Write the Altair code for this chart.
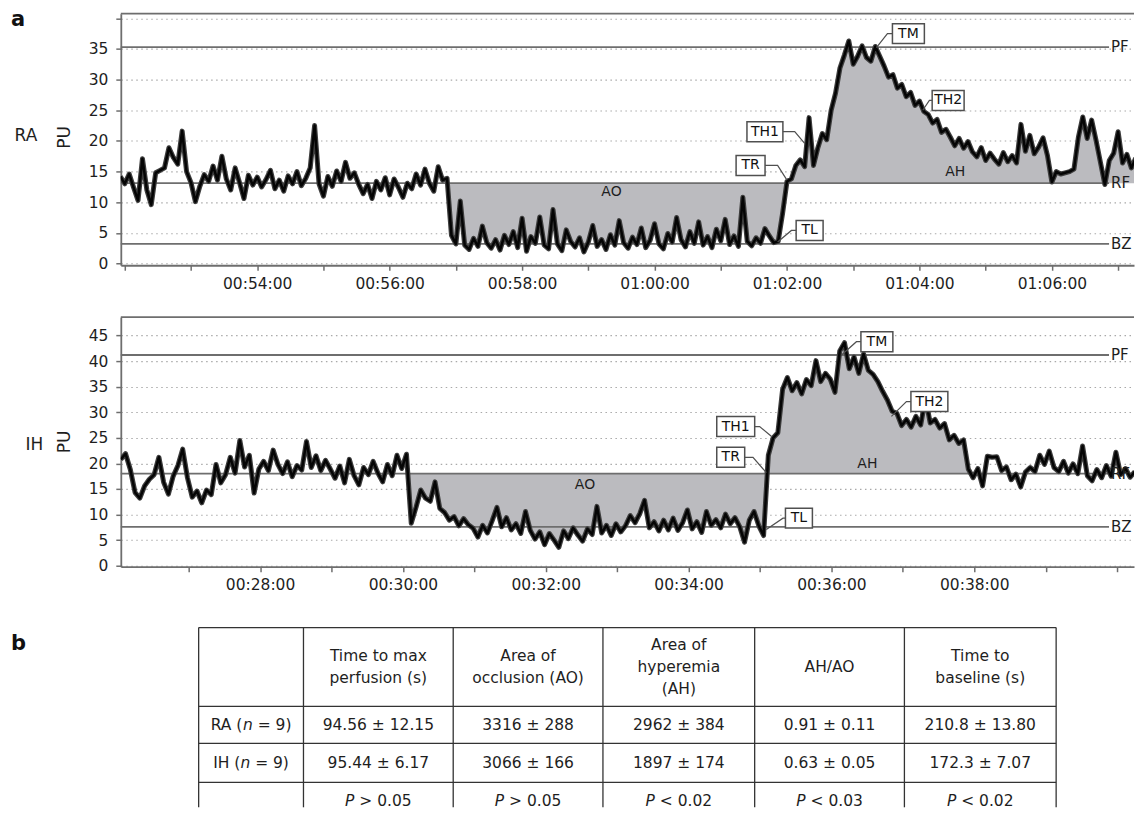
import altair as alt
import pandas as pd

FONT = "DejaVu Sans"
INK = "#1e1e1e"
AXIS_GRAY = "#6e6e6e"
FILL_GRAY = "#bbbbbf"
BOX_GRAY = "#505050"
PANEL_W = 1015

# ---------------- panel RA (time = seconds of the day) ----------------
RA_START = 3116
RA_STEP = 4
RA_PU = [
    14.2, 13.0, 14.6, 12.4, 10.3, 17.1, 12.0, 9.6, 14.8, 15.2,
    15.6, 18.9, 17.3, 16.2, 21.6, 15.0, 13.2, 10.1, 12.6, 14.5,
    13.4, 15.9, 13.6, 17.5, 13.8, 12.0, 15.6, 13.2, 10.6, 14.4,
    12.8, 14.1, 12.5, 13.7, 15.2, 12.2, 13.6, 11.8, 14.3, 13.0,
    15.0, 12.7, 13.9, 15.6, 22.5, 13.0, 11.0, 14.2, 12.6, 15.1,
    13.4, 16.5, 13.9, 14.8, 12.9, 11.4, 12.9, 10.6, 13.4, 12.0,
    14.0, 11.2, 13.8, 12.4, 10.8, 13.1, 12.2, 14.6, 12.8, 15.4,
    13.1, 11.8, 15.8, 13.6, 13.9, 4.6, 3.2, 10.2, 3.0, 2.3,
    4.1, 2.8, 6.1, 3.4, 2.5, 3.9, 2.2, 4.6, 3.1, 5.2,
    2.6, 7.4, 2.0, 4.4, 3.3, 7.6, 3.0, 2.4, 8.8, 3.2,
    2.1, 5.5, 3.6, 2.7, 4.2, 1.9, 3.5, 6.2, 2.8, 3.9,
    2.3, 4.7, 3.0, 7.0, 3.4, 2.5, 4.3, 3.1, 5.8, 2.6,
    3.8, 6.5, 3.2, 2.4, 4.9, 3.5, 7.5, 3.9, 2.7, 5.2,
    3.3, 6.8, 3.0, 4.4, 2.6, 5.6, 3.7, 7.2, 3.1, 4.5,
    2.8, 10.8, 3.6, 2.9, 4.2, 3.3, 5.7, 4.5, 3.4, 3.6,
    8.2, 13.4, 13.8, 16.0, 16.9, 15.8, 23.8, 16.0, 18.9, 21.2,
    20.2, 25.0, 27.8, 31.9, 34.0, 36.3, 32.5, 33.8, 35.5, 33.6,
    33.0, 35.4, 33.8, 32.2, 30.4, 30.8, 28.6, 29.2, 27.2, 27.9,
    25.8, 26.5, 24.8, 24.3, 22.9, 23.5, 21.4, 21.9, 20.6, 19.2,
    20.4, 18.8, 19.9, 18.2, 17.4, 18.9, 16.8, 18.0, 17.0, 16.2,
    18.1, 16.6, 17.6, 16.4, 22.7, 18.3, 20.9, 17.9, 19.0, 20.5,
    17.6, 13.3, 15.0, 14.6, 14.8, 15.0, 15.4, 20.6, 23.9, 20.4,
    23.4, 20.1, 16.5, 12.9, 16.8, 18.0, 21.5, 16.4, 17.8, 15.6, 17.2,
]
RA_X_DOMAIN = [3116.4, 4034.4]
RA_Y_DOMAIN = [-0.28, 40.75]
RA_Y_TICKS = [0, 5, 10, 15, 20, 25, 30, 35, 40]
RA_X_TICKS = list(range(3120, 4021, 60))
RA_X_LABELED = list(range(3240, 3961, 120))
RA_LEVEL_NAMES = ["PF", "RF", "BZ"]
RA_LEVELS = [35.3, 13.1, 3.2]
RA_AO = [3412, 3720]
RA_AH = [3716, 4040]
RA_ANN_LABELS = ["TM", "TH2", "TH1", "TR", "TL"]
RA_ANN_BOX_T = [3830, 3866, 3700, 3687, 3740.5]
RA_ANN_BOX_V = [37.5, 26.6, 21.5, 16.0, 5.4]
RA_ANN_ELBOW_T = [3811, 3849, 3727, 3711.5, 3724]
RA_ANN_TARGET_T = [3801, 3843, 3736, 3720, 3711.5]
RA_ANN_TARGET_V = [35.2, 25.0, 19.6, 13.6, 3.5]
RA_ANN_BOX_W = [32, 32, 36, 29, 27]
RA_AREA_NAMES = ["AO", "AH"]
RA_AREA_T = [3561, 3872.5]
RA_AREA_V = [11.6, 14.9]

# ---------------- panel IH ----------------
IH_START = 1563
IH_STEP = 4
IH_PU = [
    20.8, 21.9, 18.8, 14.3, 13.2, 15.6, 16.9, 17.8, 21.2, 16.3,
    14.0, 17.5, 19.6, 22.8, 17.2, 13.4, 14.6, 12.3, 14.8, 13.9,
    19.8, 16.2, 17.8, 21.2, 18.1, 24.5, 19.3, 21.6, 14.2, 18.9,
    20.4, 18.6, 22.6, 19.8, 18.0, 20.3, 17.4, 19.6, 18.7, 24.3,
    19.2, 21.5, 18.6, 20.6, 18.9, 17.1, 19.5, 16.2, 20.8, 17.6,
    15.8, 19.2, 17.8, 20.4, 18.1, 16.4, 19.8, 17.6, 21.6, 19.0,
    21.8, 8.3, 11.4, 14.8, 13.2, 12.6, 16.4, 11.2, 10.4, 8.9,
    9.6, 7.8, 9.2, 8.0, 7.3, 5.6, 7.9, 6.4, 8.8, 11.4,
    7.6, 9.4, 7.0, 8.2, 6.3, 10.6, 6.9, 5.2, 6.6, 4.1,
    6.3, 5.0, 3.6, 6.8, 5.3, 7.4, 6.0, 4.8, 7.2, 6.1,
    11.6, 6.4, 7.9, 5.9, 8.2, 6.6, 7.8, 9.8, 8.4, 10.2,
    12.8, 7.4, 8.6, 6.8, 8.9, 7.0, 9.3, 6.9, 8.4, 10.9,
    7.2, 8.6, 6.5, 10.6, 7.9, 9.0, 7.4, 10.1, 8.2, 9.4,
    7.6, 4.6, 8.9, 10.6, 7.8, 5.9, 21.6, 25.0, 26.0, 34.5,
    36.8, 34.2, 35.8, 33.6, 36.4, 35.2, 40.1, 36.0, 37.6, 36.5,
    33.9, 42.0, 43.6, 38.5, 40.8, 37.6, 41.4, 38.2, 37.4, 36.0,
    34.1, 32.4, 30.2, 29.8, 27.4, 28.6, 27.1, 29.2, 27.5, 32.8,
    27.9, 28.6, 26.9, 27.8, 24.6, 25.5, 23.9, 24.6, 18.9, 17.2,
    19.0, 15.6, 21.4, 21.2, 21.3, 18.6, 19.3, 16.8, 17.9, 15.4,
    18.3, 19.2, 18.4, 21.6, 19.8, 22.4, 19.2, 18.4, 20.4, 18.1,
    19.9, 18.0, 23.4, 17.6, 16.6, 18.8, 17.2, 19.6, 17.5, 22.2,
    17.8, 19.0, 17.3, 18.4,
]
IH_X_DOMAIN = [1563.0, 2414.2]
IH_Y_DOMAIN = [-0.2, 48.6]
IH_Y_TICKS = [0, 5, 10, 15, 20, 25, 30, 35, 40, 45]
IH_X_TICKS = list(range(1620, 2401, 60))
IH_X_LABELED = list(range(1680, 2281, 120))
IH_LEVEL_NAMES = ["PF", "RF", "BZ"]
IH_LEVELS = [41.2, 18.0, 7.6]
IH_AO = [1803, 2107]
IH_AH = [2103, 2275]
IH_ANN_LABELS = ["TM", "TH2", "TH1", "TR", "TL"]
IH_ANN_BOX_T = [2198.2, 2242.3, 2079.6, 2075.4, 2132.7]
IH_ANN_BOX_V = [43.8, 32.1, 27.2, 21.2, 9.3]
IH_ANN_ELBOW_T = [2181, 2223, 2099.7, 2094.1, 2119.3]
IH_ANN_TARGET_T = [2168.5, 2210.4, 2109.5, 2105.3, 2105.3]
IH_ANN_TARGET_V = [41.2, 29.2, 25.3, 18.2, 7.1]
IH_ANN_BOX_W = [32, 37, 38, 28, 27]
IH_AREA_NAMES = ["AO", "AH"]
IH_AREA_T = [1953, 2190.2]
IH_AREA_V = [15.7, 19.8]

# ---------------- table b ----------------
TBL_HEADERS = [
    [],
    ["Time to max", "perfusion (s)"],
    ["Area of", "occlusion (AO)"],
    ["Area of", "hyperemia", "(AH)"],
    ["AH/AO"],
    ["Time to", "baseline (s)"],
]
TBL_GROUPS = ["RA", "IH"]
TBL_N = "9"
TBL_RA = ["94.56 ± 12.15", "3316 ± 288", "2962 ± 384", "0.91 ± 0.11", "210.8 ± 13.80"]
TBL_IH = ["95.44 ± 6.17", "3066 ± 166", "1897 ± 174", "0.63 ± 0.05", "172.3 ± 7.07"]
TBL_P_SIGN = [">", ">", "<", "<", "<"]
TBL_P_VAL = ["0.05", "0.05", "0.02", "0.03", "0.02"]
TBL_COLS = [78, 183, 333, 483, 635, 785, 937]
TBL_ROWS = [0, 79, 116, 155, 192]
TBL_TOP = -9
TBL_H = 180
TBL_FS = 15.5


def make_panel(c):
    xs = alt.Scale(domain=c["x_domain"], nice=False, zero=False)
    ys = alt.Scale(domain=c["y_domain"], nice=False, zero=False)
    lab = "[" + ",".join(str(v) for v in c["x_labeled"]) + "]"
    x_axis = alt.Axis(
        values=c["x_ticks"], title=None, grid=False, labelOverlap=False, labelFlush=False,
        labelPadding=6,
        labelExpr=f"indexof({lab}, datum.value) >= 0 ? utcFormat(datum.value * 1000, '%H:%M:%S') : ''",
    )
    y_axis = alt.Axis(
        values=c["y_ticks"], title=None, grid=True, gridDash=[1.5, 3.5], gridColor="#a9a9a9",
        gridWidth=1.1, labelOverlap=False, labelPadding=8,
        labelExpr=f"datum.value > {c['y_label_max']} ? '' : datum.label",
    )

    def X(f):
        return alt.X(f"{f}:Q", scale=xs, axis=x_axis)

    def Y(f):
        return alt.Y(f"{f}:Q", scale=ys, axis=y_axis)

    T = [c["start"] + c["step"] * i for i in range(len(c["values"]))]
    sig = pd.DataFrame({"T": T, "v": c["values"]})
    rf = c["levels"][1]
    ao = sig[(sig["T"] >= c["ao"][0]) & (sig["T"] <= c["ao"][1])].copy()
    ao["lo"] = ao["v"].clip(upper=rf)
    ao["hi"] = rf
    ah = sig[(sig["T"] >= c["ah"][0]) & (sig["T"] <= c["ah"][1])].copy()
    ah["lo"] = rf
    ah["hi"] = ah["v"].clip(lower=rf)

    layers = []
    for d in (ao, ah):
        layers.append(
            alt.Chart(d).mark_area(color=FILL_GRAY, opacity=1, clip=True).encode(
                x=X("T"), y=Y("lo"), y2=alt.Y2("hi")
            )
        )
    frame = pd.DataFrame({"v": [c["y_domain"][1]]})
    layers.append(alt.Chart(frame).mark_rule(color=AXIS_GRAY, strokeWidth=1.8).encode(y=Y("v")))

    lev = pd.DataFrame({
        "name": c["level_names"], "level": c["levels"],
        "T0": [c["x_domain"][0]] * 3, "T1": [c["level_end"]] * 3,
        "Tl": [c["level_label_t"]] * 3,
    })
    layers.append(alt.Chart(lev).mark_rule(color=AXIS_GRAY, strokeWidth=1.8).encode(
        x=X("T0"), x2=alt.X2("T1"), y=Y("level")))

    layers.append(alt.Chart(sig).mark_line(color="#3d3d3d", strokeWidth=5.0, strokeJoin="round",
                                           clip=True).encode(x=X("T"), y=Y("v")))
    layers.append(alt.Chart(sig).mark_line(color="#050505", strokeWidth=2.5, strokeJoin="round",
                                           clip=True).encode(x=X("T"), y=Y("v")))

    rows = []
    for k, l in enumerate(c["ann_labels"]):
        rows.append({"label": l, "seq": 0, "T": c["ann_box_t"][k], "v": c["ann_box_v"][k]})
        rows.append({"label": l, "seq": 1, "T": c["ann_elbow_t"][k], "v": c["ann_box_v"][k]})
        rows.append({"label": l, "seq": 2, "T": c["ann_target_t"][k], "v": c["ann_target_v"][k]})
    leaders = pd.DataFrame(rows)
    layers.append(alt.Chart(leaders).mark_line(color=BOX_GRAY, strokeWidth=1.2).encode(
        x=X("T"), y=Y("v"), detail="label:N", order="seq:Q"))

    boxes = pd.DataFrame({
        "label": c["ann_labels"], "T": c["ann_box_t"], "v": c["ann_box_v"],
        "shape": [f"M-1,-{20 / w:.4f}L1,-{20 / w:.4f}L1,{20 / w:.4f}L-1,{20 / w:.4f}Z" for w in c["ann_box_w"]],
        "size": [w * w for w in c["ann_box_w"]],
    })
    layers.append(alt.Chart(boxes).mark_point(filled=True, fill="white", stroke=BOX_GRAY,
                                              strokeWidth=1.5, opacity=1).encode(
        x=X("T"), y=Y("v"), shape=alt.Shape("shape:N", scale=None),
        size=alt.Size("size:Q", scale=None)))
    layers.append(alt.Chart(boxes).mark_text(font=FONT, fontSize=14, color="#111111").encode(
        x=X("T"), y=Y("v"), text="label:N"))

    layers.append(alt.Chart(lev).mark_text(font=FONT, fontSize=15, color=INK, align="left",
                                           baseline="middle", clip=True).encode(
        x=X("Tl"), y=Y("level"), text="name:N"))

    areas = pd.DataFrame({"name": c["area_names"], "T": c["area_t"], "v": c["area_v"]})
    layers.append(alt.Chart(areas).mark_text(font=FONT, fontSize=14, color=INK).encode(
        x=X("T"), y=Y("v"), text="name:N"))

    one = pd.DataFrame({"k": [0]})
    layers.append(alt.Chart(one).mark_text(font=FONT, fontSize=17, color=INK, text=c["name"]).encode(
        x=alt.value(c["name_x"]), y=alt.value(c["name_y"])))
    layers.append(alt.Chart(one).mark_text(font=FONT, fontSize=17, color=INK, text="PU", angle=270).encode(
        x=alt.value(-55.5), y=alt.value(c["pu_y"])))
    if c.get("letter"):
        layers.append(alt.Chart(one).mark_text(font=FONT, fontSize=21, fontWeight="bold", color="#111111",
                                               align="left", baseline="alphabetic",
                                               text=c["letter"]).encode(
            x=alt.value(-110), y=alt.value(12)))
        layers.append(alt.Chart(one).mark_rule(color="white", strokeWidth=0.5).encode(
            x=alt.value(-112), x2=alt.value(-111), y=alt.value(-4.75), y2=alt.value(-4.75)))
    return alt.layer(*layers).properties(width=PANEL_W, height=c["height"])


ra = make_panel(dict(
    start=RA_START, step=RA_STEP, values=RA_PU, x_domain=RA_X_DOMAIN, y_domain=RA_Y_DOMAIN,
    y_ticks=RA_Y_TICKS, y_label_max=35, x_ticks=RA_X_TICKS, x_labeled=RA_X_LABELED,
    level_names=RA_LEVEL_NAMES, levels=RA_LEVELS, level_end=4011.8, level_label_t=4013.6,
    ao=RA_AO, ah=RA_AH, ann_labels=RA_ANN_LABELS, ann_box_t=RA_ANN_BOX_T, ann_box_v=RA_ANN_BOX_V,
    ann_elbow_t=RA_ANN_ELBOW_T, ann_target_t=RA_ANN_TARGET_T, ann_target_v=RA_ANN_TARGET_V,
    ann_box_w=RA_ANN_BOX_W, area_names=RA_AREA_NAMES, area_t=RA_AREA_T, area_v=RA_AREA_V,
    name="RA", name_x=-95, name_y=123, pu_y=124, letter="a", height=252,
))
ih = make_panel(dict(
    start=IH_START, step=IH_STEP, values=IH_PU, x_domain=IH_X_DOMAIN, y_domain=IH_Y_DOMAIN,
    y_ticks=IH_Y_TICKS, y_label_max=45, x_ticks=IH_X_TICKS, x_labeled=IH_X_LABELED,
    level_names=IH_LEVEL_NAMES, levels=IH_LEVELS, level_end=2393.2, level_label_t=2394.9,
    ao=IH_AO, ah=IH_AH, ann_labels=IH_ANN_LABELS, ann_box_t=IH_ANN_BOX_T, ann_box_v=IH_ANN_BOX_V,
    ann_elbow_t=IH_ANN_ELBOW_T, ann_target_t=IH_ANN_TARGET_T, ann_target_v=IH_ANN_TARGET_V,
    ann_box_w=IH_ANN_BOX_W, area_names=IH_AREA_NAMES, area_t=IH_AREA_T, area_v=IH_AREA_V,
    name="IH", name_x=-86.5, name_y=127.7, pu_y=125, height=250,
))

# ---------------- table ----------------
EM = {" ": 0.318, ".": 0.318, "(": 0.390, ")": 0.390, "=": 0.838, ">": 0.838, "<": 0.838,
      "±": 0.838, "R": 0.695, "A": 0.684, "I": 0.295, "H": 0.752, "n": 0.634, "P": 0.603}


def tw(s):
    return sum(EM.get(ch, 0.636) for ch in s) * TBL_FS


centers_x = [(TBL_COLS[i] + TBL_COLS[i + 1]) / 2 for i in range(6)]
centers_y = [(TBL_ROWS[i] + TBL_ROWS[i + 1]) / 2 for i in range(4)]

plain = []
head_mid = centers_y[0]
for ci, lines in enumerate(TBL_HEADERS):
    n = len(lines)
    for k, ln in enumerate(lines):
        plain.append({"x": centers_x[ci], "y": head_mid + (k - (n - 1) / 2) * 22.5, "t": ln})
for ci in range(5):
    plain.append({"x": centers_x[ci + 1], "y": centers_y[1], "t": TBL_RA[ci]})
    plain.append({"x": centers_x[ci + 1], "y": centers_y[2], "t": TBL_IH[ci]})

segs = []


def add_composite(parts, cx, cy):
    total = sum(tw(p) for p, _ in parts)
    x0 = cx - total / 2
    for p, it in parts:
        stripped = p.lstrip(" ")
        lead = tw(p[: len(p) - len(stripped)])
        segs.append({"x": x0 + lead, "y": cy, "t": stripped, "it": it})
        x0 += tw(p)


for gi, g in enumerate(TBL_GROUPS):
    add_composite([(g + " (", False), ("n", True), (" = " + TBL_N + ")", False)], centers_x[0], centers_y[1 + gi])
for ci in range(5):
    add_composite([("P", True), (" " + TBL_P_SIGN[ci] + " " + TBL_P_VAL[ci], False)], centers_x[ci + 1], centers_y[3])

plain_df = pd.DataFrame(plain)
seg_df = pd.DataFrame(segs)
hl = pd.DataFrame({"y": TBL_ROWS[:-1], "x1": TBL_COLS[0], "x2": TBL_COLS[-1]})
vl = pd.DataFrame({"x": TBL_COLS, "y1": 0, "y2": min(TBL_ROWS[-1], TBL_H)})

txs = alt.Scale(domain=[0, PANEL_W], nice=False, zero=False)
tys = alt.Scale(domain=[TBL_TOP, TBL_H], nice=False, zero=False, reverse=True)
TX = lambda f: alt.X(f"{f}:Q", scale=txs, axis=None)
TY = lambda f: alt.Y(f"{f}:Q", scale=tys, axis=None)

table = alt.layer(
    alt.Chart(hl).mark_rule(color="#333333", strokeWidth=1.3).encode(x=TX("x1"), x2=alt.X2("x2"), y=TY("y")),
    alt.Chart(vl).mark_rule(color="#333333", strokeWidth=1.3).encode(x=TX("x"), y=TY("y1"), y2=alt.Y2("y2")),
    alt.Chart(plain_df).mark_text(font=FONT, fontSize=TBL_FS, color=INK, align="center",
                                  baseline="middle").encode(x=TX("x"), y=TY("y"), text="t:N"),
    alt.Chart(seg_df[~seg_df["it"]]).mark_text(font=FONT, fontSize=TBL_FS, color=INK, align="left",
                                               baseline="middle").encode(x=TX("x"), y=TY("y"), text="t:N"),
    alt.Chart(seg_df[seg_df["it"]]).mark_text(font=FONT, fontSize=TBL_FS, color=INK, align="left",
                                              baseline="middle", fontStyle="italic").encode(
        x=TX("x"), y=TY("y"), text="t:N"),
    alt.Chart(pd.DataFrame({"k": [0]})).mark_text(font=FONT, fontSize=21, fontWeight="bold", color="#111111",
                                                  align="left", baseline="alphabetic", text="b").encode(
        x=alt.value(-110), y=alt.value(31)),
).properties(width=PANEL_W, height=TBL_H - TBL_TOP)

chart = alt.vconcat(
    ra, ih, table,
    spacing=52,
    bounds="flush",
).properties(padding=0).configure_view(stroke=None).configure_axis(
    domainColor=AXIS_GRAY, domainWidth=1.8, tickColor=AXIS_GRAY, tickWidth=1.5, tickSize=5,
    labelFont=FONT, labelFontSize=15.5, labelColor=INK,
)

chart.save("out.html", embed_options={"renderer": "svg", "actions": False})
